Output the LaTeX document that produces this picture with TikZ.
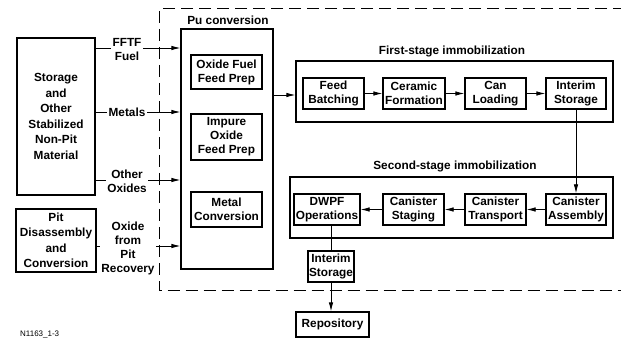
\documentclass[tikz,border=0pt]{standalone}
\usepackage{fontspec}
\setmainfont{Liberation Sans}
\usetikzlibrary{arrows.meta}
\begin{document}
\begin{tikzpicture}[x=1pt,y=-1pt,
  box/.style={draw, line width=1.3pt, align=center, inner sep=0pt, font=\fontsize{11.8}{14}\selectfont\bfseries},
  widebox/.style={box, font=\fontsize{11.8}{15.5}\selectfont\bfseries},
  lbl/.style={align=center, fill=white, inner sep=1.5pt, font=\fontsize{11.8}{14}\selectfont\bfseries},
  ttl/.style={font=\fontsize{11.8}{14}\selectfont\bfseries},
  conn/.style={line width=0.8pt},
  arr/.style={line width=0.8pt, -{Latex[length=9pt,width=4.5pt]}}]
\useasboundingbox (0,0) rectangle (621,339);
% dashed boundary
\draw[line width=1pt, dash pattern=on 12pt off 6pt] (625,9) -- (159,9) -- (159,290.5) -- (625,290.5);
% left boxes
\node[widebox, minimum width=78pt, minimum height=157pt] (stor) at (56,116.5) {Storage\\and\\Other\\Stabilized\\Non-Pit\\Material};
\node[widebox, minimum width=80pt, minimum height=63pt] (pit) at (56,240.5) {Pit\\Disassembly\\and\\Conversion};
% Pu conversion
\node[ttl] (putitle) at (228,20) {Pu conversion};
\node[box, minimum width=92pt, minimum height=240pt] (pu) at (227,149) {};
\node[box, minimum width=71pt, minimum height=34pt] (ofp) at (226.5,72) {Oxide Fuel\\Feed Prep};
\node[box, minimum width=71pt, minimum height=46pt] (iofp) at (226.5,137) {Impure\\Oxide\\Feed Prep};
\node[box, minimum width=71pt, minimum height=35pt] (mc) at (226.5,209.5) {Metal\\Conversion};
% input labels
\node[lbl] (l1) at (127,50) {FFTF\\Fuel};
\node[lbl] (l2) at (127,112) {Metals};
\node[lbl] (l3) at (127,181) {Other\\Oxides};
\node[lbl] (l4) at (128,248.5) {Oxide\\from\\Pit\\Recovery};
\coordinate (y1) at (0,48);
\coordinate (y2) at (0,112);
\coordinate (y3) at (0,180);
\coordinate (y4) at (0,246);
\draw[conn] (stor.east |- y1) -- (l1.west |- y1);
\draw[arr] (l1.east |- y1) -- (pu.west |- y1);
\draw[conn] (stor.east |- y2) -- (l2.west |- y2);
\draw[arr] (l2.east |- y2) -- (pu.west |- y2);
\draw[conn] (stor.east |- y3) -- (l3.west |- y3);
\draw[arr] (l3.east |- y3) -- (pu.west |- y3);
\draw[conn] (pit.east |- y4) -- (l4.west |- y4);
\draw[arr] (l4.east |- y4) -- (pu.west |- y4);
% first stage
\node[ttl] (t1) at (452,51) {First-stage immobilization};
\node[box, minimum width=317pt, minimum height=61pt] (fs) at (454.5,91.5) {};
\node[box, minimum width=61pt, minimum height=31pt] (fb) at (333.5,93.5) {Feed\\Batching};
\node[box, minimum width=62pt, minimum height=31pt] (cf) at (414,93.5) {Ceramic\\Formation};
\node[box, minimum width=61pt, minimum height=31pt] (cl) at (495.5,93.5) {Can\\Loading};
\node[box, minimum width=60pt, minimum height=31pt] (is1) at (576,93.5) {Interim\\Storage};
\coordinate (yp) at (0,95);
\draw[arr] (pu.east |- yp) -- (fs.west |- yp);
\draw[arr] (fb) -- (cf);
\draw[arr] (cf) -- (cl);
\draw[arr] (cl) -- (is1);
% second stage
\node[ttl] (t2) at (455,166) {Second-stage immobilization};
\node[box, minimum width=323pt, minimum height=61pt] (ss) at (451.5,207.5) {};
\node[box, minimum width=66pt, minimum height=31pt] (dwpf) at (327,209.5) {DWPF\\Operations};
\node[box, minimum width=61pt, minimum height=31pt] (cs) at (413.5,209.5) {Canister\\Staging};
\node[box, minimum width=61pt, minimum height=31pt] (ct) at (495.5,209.5) {Canister\\Transport};
\node[box, minimum width=60pt, minimum height=31pt] (ca) at (576,209.5) {Canister\\Assembly};
\draw[arr] (is1) -- (ca);
\draw[arr] (ca) -- (ct);
\draw[arr] (ct) -- (cs);
\draw[arr] (cs) -- (dwpf);
% interim storage and repository
\node[box, minimum width=46pt, minimum height=31pt] (is2) at (331,266.5) {Interim\\Storage};
\node[box, minimum width=73pt, minimum height=25pt] (rep) at (332.5,324.5) {Repository};
\draw[conn] (dwpf.south -| is2) -- (is2.north);
\draw[arr] (is2.south) -- (is2.south |- rep.north);
% figure id
\node[anchor=base west, inner sep=0pt, font=\fontsize{8}{10}\selectfont] (fid) at (20,336.5) {N1163\_1-3};
\end{tikzpicture}
\end{document}
